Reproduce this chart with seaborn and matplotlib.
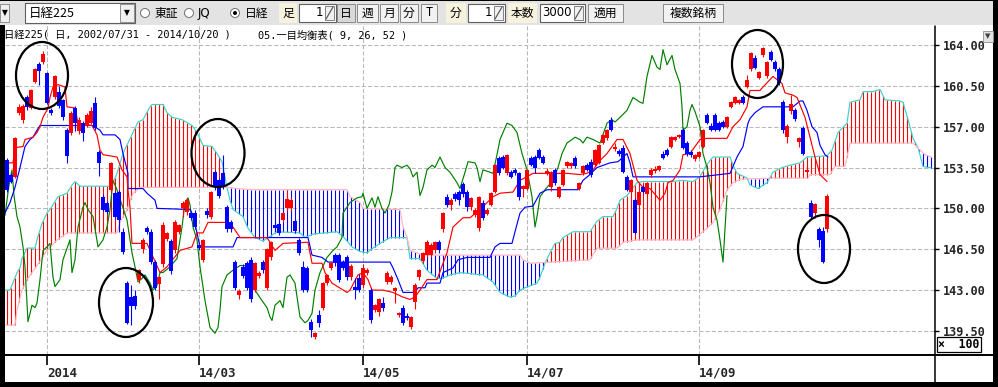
import numpy as np
import pandas as pd
import matplotlib
matplotlib.use("Agg")
import matplotlib.pyplot as plt
import seaborn as sns
from matplotlib.patches import Rectangle, Ellipse
from matplotlib.lines import Line2D

# ---------------- data (values x100 yen, day = trading-day number) ----------------
opens = [154.15, 152.9, 152.7, 158.2, 157.6, 159.5, 158.6, 160.8, 162.4, 162.5,
         161.6, 158.4, 159.5, 160.0, 159.3, 156.7, 156.5, 158.6, 156.6, 157.3,
         157.1, 157.3, 159.0, 154.8, 151.0, 150.5, 151.6, 151.3, 151.4, 148.0,
         143.6, 142.4, 142.5, 143.9, 146.5, 148.3, 148.0, 145.4, 143.5, 145.2,
         147.4, 147.2, 146.4, 148.0, 150.0, 149.7, 149.6, 149.6, 146.9, 145.6,
         149.8, 149.3, 153.1, 152.4, 153.0, 150.1, 148.8, 145.4, 142.6, 145.0,
         145.3, 145.6, 143.0, 144.2, 145.4, 143.2, 145.8, 148.6, 148.7, 149.0,
         150.0, 150.0, 148.9, 147.3, 145.0, 144.9, 140.3, 139.0, 140.9, 141.5,
         143.6, 144.9, 146.0, 146.0, 145.4, 145.8, 144.1, 143.3, 144.0, 143.4,
         144.5, 143.0, 141.3, 141.1, 141.9, 143.7, 143.7, 142.9, 140.9, 141.5,
         140.8, 139.8, 142.0, 144.1, 145.5, 146.0, 146.0, 146.4, 147.1, 148.2,
         151.0, 150.3, 151.2, 151.4, 152.1, 151.4, 150.1, 149.4, 148.3, 150.5,
         149.5, 150.3, 151.4, 154.3, 154.4, 153.0, 153.1, 153.3, 153.0, 151.7,
         151.7, 154.3, 154.4, 155.0, 154.4, 153.0, 151.8, 153.3, 151.0, 152.0,
         153.6, 153.6, 154.3, 151.7, 153.0, 153.7, 154.0, 153.7, 153.9, 155.6,
         156.0, 157.6, 155.1, 154.9, 155.2, 152.7, 151.4, 150.7, 150.3, 151.8,
         151.2, 152.9, 153.2, 153.3, 154.7, 155.0, 155.3, 155.9, 156.1, 156.7,
         155.6, 154.8, 154.2, 154.4, 155.3, 158.0, 157.1, 158.0, 157.3, 157.4,
         157.0, 158.7, 159.0, 159.0, 159.5, 160.4, 161.9, 162.9, 161.2, 163.1,
         161.3, 163.4, 162.5, 161.9, 159.1, 156.1, 158.3, 158.4, 155.7, 156.9,
         153.1, 150.5, 149.6, 148.2, 148.1, 148.2]
highs = [154.3, 153.0, 156.1, 158.9, 158.9, 159.7, 160.2, 162.0, 162.5, 163.5,
         161.7, 158.6, 161.4, 160.5, 159.4, 156.9, 158.3, 158.8, 157.8, 157.5,
         158.2, 158.7, 159.5, 155.0, 151.2, 150.6, 154.0, 151.5, 151.6, 148.3,
         143.8, 143.4, 143.0, 144.8, 147.5, 148.5, 148.2, 145.6, 144.2, 148.8,
         148.0, 147.4, 149.0, 148.7, 150.6, 150.9, 149.8, 149.9, 147.1, 147.4,
         150.0, 151.5, 153.3, 152.6, 154.6, 150.3, 149.0, 145.6, 143.1, 145.2,
         145.5, 145.8, 145.4, 144.6, 145.6, 146.6, 147.2, 148.8, 148.9, 149.7,
         151.6, 151.0, 149.1, 147.5, 145.5, 145.1, 140.5, 139.4, 141.3, 143.7,
         144.4, 145.4, 146.2, 146.2, 145.6, 146.0, 145.2, 144.0, 144.4, 145.2,
         144.9, 143.2, 141.8, 142.3, 142.4, 144.6, 144.3, 143.3, 141.1, 141.7,
         141.0, 140.8, 143.6, 144.8, 146.3, 147.3, 147.0, 147.2, 147.3, 149.7,
         151.2, 150.9, 151.4, 151.6, 152.3, 151.6, 151.0, 150.0, 151.1, 150.7,
         150.0, 151.4, 153.8, 154.5, 154.6, 154.7, 153.3, 153.5, 153.1, 152.0,
         153.4, 154.5, 154.6, 155.2, 154.6, 153.5, 153.2, 153.5, 151.9, 153.4,
         154.1, 154.0, 154.5, 152.3, 153.7, 153.9, 154.2, 155.1, 155.5, 156.4,
         156.8, 157.8, 155.6, 155.1, 155.4, 152.9, 152.5, 150.9, 151.5, 152.0,
         152.3, 153.5, 153.6, 153.7, 154.9, 155.2, 156.2, 156.2, 156.4, 156.9,
         155.8, 155.0, 154.7, 154.9, 156.8, 158.2, 157.3, 158.2, 157.5, 157.6,
         157.9, 159.2, 159.6, 159.4, 159.7, 161.4, 163.4, 163.1, 161.8, 163.8,
         162.6, 163.6, 162.7, 162.1, 159.3, 157.2, 159.7, 158.6, 156.1, 157.1,
         153.6, 150.7, 150.5, 148.4, 148.4, 151.2]
lows = [151.4, 152.2, 152.6, 158.0, 157.3, 158.4, 158.5, 160.7, 160.6, 162.4,
        158.9, 158.0, 159.4, 158.6, 157.6, 153.9, 156.3, 156.6, 156.4, 155.8,
        157.0, 157.2, 156.7, 152.8, 149.8, 149.5, 151.4, 149.1, 148.0, 146.1,
        140.1, 140.0, 141.4, 143.6, 146.2, 147.8, 145.2, 143.0, 142.2, 145.0,
        147.2, 144.4, 146.2, 147.8, 149.3, 149.4, 149.0, 148.2, 146.4, 145.4,
        149.2, 149.1, 151.6, 150.9, 151.7, 148.0, 148.0, 143.0, 142.2, 144.0,
        143.0, 142.0, 142.8, 144.0, 144.5, 143.0, 145.6, 148.1, 147.7, 148.8,
        149.8, 149.8, 147.9, 146.0, 142.8, 142.8, 139.0, 138.8, 139.8, 141.3,
        143.4, 144.7, 145.1, 143.7, 144.7, 143.9, 143.9, 142.2, 142.8, 143.2,
        144.3, 140.2, 141.1, 140.8, 141.2, 143.5, 143.5, 141.9, 140.7, 140.0,
        140.4, 139.7, 141.4, 143.9, 145.3, 145.8, 145.8, 146.2, 146.2, 148.0,
        150.1, 149.9, 150.6, 150.3, 151.0, 149.8, 149.9, 149.3, 148.1, 149.0,
        149.4, 150.2, 151.3, 152.9, 153.4, 152.9, 152.6, 152.9, 150.7, 151.0,
        151.6, 153.6, 153.0, 154.2, 153.8, 152.9, 151.5, 152.0, 150.9, 151.9,
        153.5, 153.5, 153.5, 151.6, 152.9, 153.2, 152.7, 153.6, 153.8, 155.5,
        155.9, 156.6, 154.9, 154.5, 153.0, 151.5, 151.3, 147.8, 150.2, 151.3,
        151.1, 152.7, 153.0, 153.2, 154.2, 154.5, 155.2, 155.8, 156.0, 155.1,
        154.5, 154.4, 154.1, 154.3, 155.2, 157.2, 156.6, 156.6, 156.6, 156.9,
        156.9, 158.6, 158.9, 158.9, 158.9, 160.3, 161.8, 161.9, 161.1, 163.0,
        161.2, 162.6, 161.8, 160.6, 156.5, 155.6, 158.1, 157.5, 155.3, 154.6,
        152.7, 149.2, 149.2, 146.7, 145.3, 148.0]
closes = [151.6, 152.3, 156.0, 158.7, 158.8, 158.7, 160.1, 161.9, 161.8, 163.2,
          159.0, 158.2, 161.3, 158.8, 157.8, 154.5, 158.2, 157.3, 157.6, 156.5,
          158.0, 158.3, 156.9, 153.9, 149.9, 149.7, 153.9, 149.3, 149.0, 146.3,
          140.2, 141.6, 141.6, 144.7, 147.3, 148.0, 145.4, 143.2, 144.1, 148.6,
          147.9, 144.6, 148.8, 148.6, 150.5, 150.7, 149.2, 148.4, 146.6, 147.3,
          149.4, 151.4, 151.8, 151.1, 151.8, 148.2, 148.2, 143.2, 142.9, 144.2,
          143.2, 142.2, 145.3, 144.5, 144.7, 146.5, 147.1, 148.3, 147.9, 149.6,
          150.8, 150.7, 148.1, 146.2, 143.0, 143.0, 139.6, 139.3, 140.2, 143.6,
          144.3, 145.3, 145.3, 143.9, 144.9, 144.1, 145.1, 143.0, 143.0, 144.9,
          144.7, 140.4, 141.7, 142.2, 141.5, 144.5, 144.1, 143.2, 141.0, 140.2,
          140.6, 140.7, 143.4, 144.7, 146.2, 147.1, 146.9, 147.1, 146.4, 149.6,
          150.3, 150.7, 150.8, 150.7, 151.2, 150.1, 150.9, 149.9, 151.0, 149.2,
          149.9, 151.3, 153.7, 153.0, 153.5, 154.6, 152.7, 153.0, 151.0, 151.9,
          153.3, 153.7, 153.5, 154.3, 153.9, 153.2, 153.1, 152.2, 151.8, 153.3,
          154.0, 153.9, 153.6, 152.2, 153.6, 153.3, 152.9, 155.0, 155.4, 156.3,
          156.7, 156.7, 155.3, 154.7, 153.1, 151.6, 152.4, 147.9, 151.4, 151.4,
          152.2, 153.3, 153.4, 153.6, 154.3, 154.6, 156.1, 156.1, 156.3, 155.2,
          154.7, 154.6, 154.6, 154.8, 156.7, 157.3, 156.7, 156.7, 156.7, 157.0,
          157.8, 159.1, 159.5, 159.3, 159.0, 161.0, 163.3, 162.0, 161.7, 163.7,
          162.5, 162.7, 161.9, 160.7, 156.7, 157.1, 158.9, 157.7, 156.0, 154.7,
          153.3, 149.3, 150.4, 147.3, 145.4, 151.1]

# conversion line (tenkan, 9) : vertices (day, value)
tenkan_day = [-0.5, 1.5, 2.0, 4.0, 4.5, 6.5, 7.5, 8.25, 9.0, 10.25, 10.75, 11.5, 12.75, 14.5, 14.75, 15.0,
              17.0, 17.75, 21.25, 22.5, 23.25, 24.0, 27.5, 28.75, 30.0, 30.25, 30.75, 31.25, 35.0, 38.25,
              40.0, 43.25, 46.25, 47.5, 49.0, 50.25, 55.0, 56.5, 58.25, 65.0, 67.0, 69.0, 75.25, 76.25,
              78.75, 79.5, 81.25, 85.0, 85.75, 87.75, 89.0, 90.25, 91.25, 94.0, 96.5, 99.0, 100.75, 102.0,
              103.25, 105.0, 107.5, 110.0, 111.5, 114.0, 115.75, 118.25, 121.5, 123.25, 126.5, 128.25,
              131.5, 140.0, 143.25, 145.0, 146.5, 148.25, 150.0, 152.5, 154.0, 155.75, 157.5, 159.0,
              160.75, 163.25, 164.5, 165.25, 166.5, 168.25, 169.0, 170.75, 173.25, 175.0, 180.0, 181.5,
              183.25, 185.0, 185.75, 188.25, 189.0, 191.5, 193.75, 194.5, 196.5, 197.5, 199.5, 200.75,
              202.0, 203.25, 205.0]
tenkan_val = [153.9, 153.9, 155.2, 155.3, 155.9, 156.1, 156.5, 157.0, 157.8, 158.6, 159.5, 160.4, 160.6, 160.4,
              159.5, 158.7, 158.6, 157.3, 157.1, 156.3, 155.0, 154.6, 154.4, 153.3, 152.7, 151.6, 150.1, 147.0,
              147.0, 144.5, 145.0, 146.4, 146.7, 147.9, 147.9, 148.8, 148.8, 148.4, 147.5, 147.5, 146.4, 147.0,
              147.1, 145.3, 145.3, 144.5, 143.6, 142.8, 143.0, 144.3, 144.5, 143.9, 143.0, 143.0, 142.8, 142.4,
              142.2, 142.4, 143.0, 143.9, 143.9, 146.2, 148.4, 149.2, 149.2, 149.9, 151.0, 151.3, 151.4, 152.4,
              153.0, 153.0, 152.9, 153.0, 153.3, 154.1, 154.7, 155.9, 155.9, 154.7, 152.4, 151.8, 151.7, 150.7,
              151.3, 152.2, 152.4, 153.3, 154.6, 154.7, 155.9, 156.0, 156.0, 157.0, 157.6, 158.7, 160.1, 160.1,
              160.4, 161.3, 160.7, 159.9, 159.7, 159.5, 157.8, 156.1, 154.4, 152.9, 152.3]

# base line (kijun, 26)
kijun_day = [-0.5, 0.75, 2.0, 3.25, 4.5, 5.75, 6.5, 7.5, 8.25, 21.5, 23.25, 24.0, 27.0, 28.25, 29.0, 30.25,
             30.25, 34.0, 35.0, 37.0, 37.5, 45.75, 46.5, 47.5, 48.25, 56.5, 57.5, 75.25, 76.25, 78.75, 80.25,
             95.75, 96.5, 97.75, 99.0, 102.0, 102.75, 104.5, 105.0, 108.25, 109.0, 111.5, 112.75, 115.0, 120.75,
             122.0, 123.25, 126.25, 127.0, 128.25, 129.5, 131.5, 133.25, 135.0, 142.75, 144.0, 145.75, 147.5,
             150.75, 152.75, 155.0, 155.75, 156.5, 173.25, 180.75, 182.5, 184.0, 185.25, 185.75, 187.0, 189.0,
             196.5, 198.25, 199.0, 200.0, 201.25, 202.5, 203.25, 204.5, 205.25]
kijun_val = [149.6, 150.5, 151.8, 153.5, 155.3, 155.9, 156.1, 156.7, 157.1, 157.1, 156.7, 156.3, 156.3, 155.9,
             154.7, 153.0, 151.7, 151.7, 151.3, 150.7, 150.0, 149.9, 149.4, 147.9, 146.7, 146.7, 147.5, 147.5,
             146.0, 145.8, 145.4, 145.4, 144.9, 143.9, 142.8, 142.8, 143.2, 143.2, 143.6, 143.6, 144.5, 144.9,
             145.6, 145.8, 145.8, 146.7, 147.0, 147.0, 148.0, 149.6, 150.1, 150.2, 151.3, 151.6, 151.6, 152.4,
             152.9, 153.5, 153.9, 154.0, 154.7, 153.9, 152.7, 152.7, 153.0, 154.4, 155.3, 157.3, 157.7, 158.2,
             158.7, 158.7, 159.2, 159.2, 158.4, 157.0, 156.5, 155.4, 154.6, 154.4]

# lagging span (chikou)
chikou_day = [-0.5, 0.5, 1.25, 1.75, 2.5, 3.25, 4.0, 4.5, 5.25, 6.25, 7.0, 7.5, 8.25, 9.0, 10.0, 10.75, 11.5,
              12.0, 13.25, 14.0, 15.75, 16.25, 17.0, 17.75, 19.0, 19.5, 20.25, 21.5, 22.75, 24.0, 25.0, 25.75,
              26.5, 27.5, 28.75, 30.0, 31.25, 32.0, 32.75, 33.75, 34.5, 35.75, 36.5, 37.5, 38.25, 39.0, 40.75,
              42.5, 43.25, 43.75, 44.5, 45.25, 45.75, 46.5, 47.5, 48.25, 49.5, 50.75, 52.0, 52.75, 53.25, 53.75,
              55.0, 56.5, 58.25, 59.5, 60.25, 62.0, 63.75, 65.0, 65.75, 66.25, 67.0, 68.25, 69.0, 70.0, 70.75,
              72.0, 73.25, 74.5, 75.25, 76.25, 77.0, 78.25, 80.0, 81.5, 82.5, 83.75, 84.0, 85.75, 87.5, 88.75,
              89.0, 90.0, 91.25, 92.0, 92.75, 93.75, 94.5, 95.5, 96.25, 97.0, 97.5, 98.75, 100.0, 100.75, 101.5,
              102.5, 103.25, 104.0, 105.0, 106.25, 107.0, 108.25, 109.5, 110.75, 112.5, 113.25, 114.5, 115.25,
              117.0, 117.5, 118.25, 119.0, 120.75, 121.5, 122.5, 123.25, 125.0, 126.25, 127.5, 128.75, 130.0,
              131.25, 132.0, 132.5, 133.25, 134.5, 136.5, 137.75, 138.75, 140.0, 141.25, 142.0, 143.25, 144.0,
              145.0, 146.5, 148.25, 150.0, 151.25, 152.0, 153.25, 155.0, 156.5, 158.25, 159.0, 160.0, 161.25,
              162.5, 163.25, 164.0, 165.0, 166.25, 167.0, 168.25, 168.75, 169.0, 170.0, 170.75, 171.25, 172.0,
              173.25, 174.0, 175.0, 175.75, 176.5, 177.5, 178.25, 179.0, 180.0]
chikou_val = [149.4, 152.0, 153.3, 151.1, 149.3, 148.4, 146.7, 145.0, 140.3, 141.7, 141.5, 141.9, 143.9, 146.4,
              146.7, 147.0, 144.1, 143.3, 143.9, 145.6, 147.3, 144.5, 145.6, 148.4, 150.1, 150.5, 149.9, 149.3,
              146.7, 147.3, 148.4, 149.9, 152.4, 151.6, 150.3, 149.0, 146.2, 145.0, 143.7, 144.0, 144.3, 143.6,
              143.0, 143.4, 144.5, 144.5, 145.0, 145.7, 147.3, 148.4, 150.5, 150.9, 150.3, 148.4, 147.3, 145.0,
              142.1, 139.8, 139.3, 139.8, 141.3, 143.3, 144.3, 144.7, 145.1, 145.1, 144.5, 143.0, 142.1, 141.5,
              140.7, 140.4, 141.7, 142.1, 141.5, 144.1, 144.3, 143.6, 140.7, 140.2, 140.4, 141.0, 143.0, 144.5,
              145.8, 146.4, 146.7, 147.5, 149.6, 150.5, 150.9, 151.0, 151.3, 150.0, 150.9, 150.1, 151.0, 150.0,
              149.6, 150.3, 151.4, 153.5, 153.7, 153.5, 153.7, 153.4, 152.7, 153.1, 151.1, 151.8, 153.3, 153.7,
              153.5, 154.4, 153.5, 153.1, 152.2, 151.7, 153.1, 154.0, 153.9, 153.5, 152.3, 153.3, 153.1, 153.0,
              154.6, 155.9, 157.3, 157.1, 156.5, 154.7, 153.3, 151.0, 148.4, 149.3, 151.0, 151.6, 152.4, 153.5,
              154.7, 155.6, 155.9, 156.1, 155.9, 155.6, 156.1, 155.9, 155.6, 157.3, 157.6, 157.4, 157.8, 158.4,
              159.5, 159.1, 159.0, 161.3, 163.1, 162.1, 161.9, 163.6, 162.3, 163.1, 161.9, 160.7, 158.7, 156.7,
              157.0, 158.4, 158.9, 158.3, 157.0, 154.7, 153.5, 152.2, 150.1, 149.0, 147.3, 145.4, 151.1]

# leading span A (senkou A)
spanA_day = [-0.5, 0.75, 2.5, 3.25, 3.75, 5.0, 7.0, 7.5, 8.75, 10.0, 10.75, 12.75, 15.0, 16.25, 17.0, 18.25,
             25.75, 26.5, 27.5, 29.0, 30.25, 31.5, 32.75, 34.0, 35.75, 36.25, 39.0, 40.0, 41.25, 42.5, 43.75,
             46.25, 47.5, 49.0, 51.25, 52.5, 53.75, 55.0, 55.75, 56.5, 59.0, 60.25, 62.0, 64.0, 65.75, 67.5,
             73.25, 74.5, 76.5, 82.5, 84.0, 86.25, 88.25, 90.0, 91.5, 93.25, 95.75, 98.25, 100.0, 100.75,
             103.25, 105.0, 107.5, 108.75, 110.75, 113.25, 119.0, 121.5, 123.25, 125.75, 127.0, 128.25, 129.5,
             132.5, 133.25, 134.5, 135.75, 137.0, 138.25, 139.0, 141.5, 145.75, 147.5, 149.0, 151.5, 152.5,
             153.25, 155.0, 157.5, 159.0, 166.5, 168.75, 171.5, 173.25, 174.5, 175.75, 176.5, 180.75, 181.5,
             182.5, 185.0, 185.75, 187.75, 190.0, 191.5, 193.75, 195.75, 198.25, 200.0, 205.0, 206.25, 207.75,
             210.0, 210.75, 213.25, 214.0, 216.5, 218.25, 219.5, 223.25, 224.0, 225.75, 226.5, 227.75, 229.0,
             230.25, 231.0]
spanA_val = [143.0, 143.0, 144.5, 144.9, 145.7, 146.6, 146.6, 147.3, 148.7, 149.6, 149.9, 151.0, 151.3, 152.0,
             152.3, 151.9, 151.9, 152.2, 153.0, 154.7, 155.6, 156.5, 157.4, 157.6, 158.7, 158.9, 158.9, 158.2,
             157.8, 157.7, 157.6, 157.1, 156.5, 155.4, 155.3, 154.7, 154.0, 151.8, 150.7, 149.9, 149.3, 148.3,
             147.5, 147.2, 147.6, 148.0, 147.9, 147.5, 147.8, 148.0, 147.6, 146.7, 146.3, 146.2, 146.6, 147.0,
             147.5, 147.5, 147.5, 145.7, 145.7, 144.7, 144.0, 144.0, 144.3, 144.5, 144.3, 143.7, 142.8, 142.4,
             142.5, 143.0, 143.2, 143.6, 144.1, 145.3, 146.2, 147.0, 147.1, 147.5, 148.0, 148.0, 148.9, 149.3,
             149.3, 150.0, 150.7, 151.1, 152.2, 152.3, 152.3, 152.4, 152.3, 152.7, 153.5, 154.1, 154.4, 154.4,
             153.7, 153.0, 152.6, 152.0, 151.7, 152.2, 153.1, 153.5, 153.7, 153.9, 154.4, 154.5, 155.0, 156.5,
             157.3, 159.1, 159.3, 160.0, 160.0, 160.2, 159.3, 159.2, 159.1, 157.0, 156.0, 155.2, 153.6, 153.5,
             153.5]

# leading span B (senkou B)
spanB_day = [-0.5, 2.0, 2.5, 3.75, 5.0, 7.5, 10.0, 12.5, 15.0, 27.5, 28.25, 30.0, 31.5, 33.25, 55.0, 60.75,
             85.0, 85.75, 88.25, 89.0, 98.25, 99.0, 100.0, 100.75, 102.5, 104.0, 128.25, 129.0, 130.75, 145.75,
             147.5, 152.5, 154.0, 157.5, 171.5, 173.25, 175.0, 176.5, 178.25, 180.0, 181.5, 183.25, 192.0,
             200.25, 200.75, 205.75, 207.0, 209.5, 210.75, 226.5, 228.25, 229.5, 231.0]
spanB_val = [140.0, 140.0, 141.3, 143.0, 143.9, 145.1, 146.4, 147.3, 147.9, 147.9, 148.8, 149.9, 151.3, 151.8,
             151.8, 151.6, 151.6, 151.0, 150.5, 150.0, 149.9, 148.4, 147.5, 146.4, 146.2, 146.0, 146.0, 145.6,
             145.3, 145.6, 146.6, 146.6, 147.1, 147.3, 147.3, 147.8, 148.3, 148.8, 149.9, 151.6, 152.2, 152.5,
             152.6, 152.6, 152.9, 152.9, 153.6, 153.6, 155.6, 155.6, 155.0, 154.6, 154.4]

tick_days = [10, 48, 89, 130, 173]
tick_labels = ["2014", "14/03", "14/05", "14/07", "14/09"]
price_ticks = [139.5, 143.0, 146.5, 150.0, 153.5, 157.0, 160.5, 164.0]

# ---------------- figure ----------------
sns.set_theme(style="white")
plt.rcParams["font.family"] = ["Noto Sans CJK JP", "DejaVu Sans"]

W, H = 998, 387
fig = plt.figure(figsize=(W / 100, H / 100), dpi=100, facecolor="black")


def fx(x):
    return x / W


def fy(y):
    return 1 - y / H


def prect(x0, y0, x1, y1, fc, ec="none", lw=0.0, z=-1):
    r = Rectangle((fx(x0), fy(y1)), (x1 - x0) / W, (y1 - y0) / H, transform=fig.transFigure,
                  facecolor=fc, edgecolor=ec, linewidth=lw, zorder=z)
    fig.patches.append(r)
    return r


def pline(xs, ys, color="black", lw=1.0, z=4):
    fig.lines.append(Line2D([fx(x) for x in xs], [fy(y) for y in ys], transform=fig.transFigure,
                            color=color, linewidth=lw, zorder=z))


def ptext(x, y, s, size=9, ha="left", color="black", weight="normal", family=None, z=6):
    kw = {}
    if family is not None:
        kw["family"] = family
    fig.text(fx(x), fy(y), s, fontsize=size, ha=ha, va="center", color=color,
             fontweight=weight, zorder=z, **kw)


# backgrounds
prect(0, 1, 993, 25, "#e3e3e3")          # toolbar
prect(5, 25, 993, 382, "white")           # chart panel

ax = fig.add_axes([fx(5), fy(355), 929 / W, 330 / H])
ax.set_facecolor("white")
ax.set_xlim(-0.5, 231.75)
ax.set_ylim(137.44, 165.71)

# cloud hatching (every day between span A and span B)
hd = np.arange(0, 232)
a = np.interp(hd, spanA_day, spanA_val)
b = np.interp(hd, spanB_day, spanB_val)
hcol = np.where(a >= b, "#ff0000", "#0000ff")
ax.vlines(hd, np.minimum(a, b), np.maximum(a, b), colors=hcol, linewidth=0.8, zorder=2)

lines = [
    (spanA_day, spanA_val, "#3cd2c8"),
    (spanB_day, spanB_val, "#ffb4c0"),
    (chikou_day, chikou_val, "#008000"),
    (kijun_day, kijun_val, "#0000ff"),
    (tenkan_day, tenkan_val, "#ff0000"),
]
for i, (dx, dv, c) in enumerate(lines):
    df = pd.DataFrame({"day": dx, "v": dv})
    sns.lineplot(data=df, x="day", y="v", ax=ax, color=c, linewidth=0.85, sort=False,
                 estimator=None, legend=False, zorder=3 + i * 0.1)

# candles
d = np.arange(len(closes))
o = np.array(opens)
c = np.array(closes)
hi = np.array(highs)
lo = np.array(lows)
up = c >= o
ccol = np.where(up, "#ff0000", "#0000ff")
ax.vlines(d, lo, hi, colors=ccol, linewidth=0.8, zorder=5)
bot = np.minimum(o, c)
hgt = np.maximum(np.abs(c - o), 0.09)
ax.bar(d, hgt, bottom=bot, width=0.78, color=ccol, linewidth=0, zorder=6)

# axes cosmetics
for s in ax.spines.values():
    s.set_visible(False)
ax.set_xlabel("")
ax.set_ylabel("")
ax.set_yticks(price_ticks)
ax.set_yticklabels([f"{v:.2f}" for v in price_ticks])
ax.set_xticks(tick_days)
ax.set_xticklabels(tick_labels)
ax.yaxis.tick_right()
ax.tick_params(axis="y", which="both", right=True, left=False, direction="out", length=3.5,
               width=1.0, color="black", pad=3, labelsize=8.6)
ax.tick_params(axis="x", which="both", bottom=True, direction="out", length=7.5, width=1.2,
               color="black", pad=1, labelsize=9.0)
for lbl in ax.get_yticklabels() + ax.get_xticklabels():
    lbl.set_fontfamily("DejaVu Sans Mono")
    lbl.set_fontweight("bold")
for lbl in ax.get_xticklabels():
    lbl.set_horizontalalignment("left")
ax.grid(True, color="#b8b8b8", linestyle=(0, (4, 2)), linewidth=0.75)
ax.set_axisbelow(True)

# frame lines
pline([5, 993], [355, 355], lw=1.4)
pline([934.5, 934.5], [26, 382], lw=1.1)

# annotation ellipses
for cx, cy, ew, eh in [(42, 75.5, 52, 67), (218, 153, 53, 68), (126, 302.5, 54, 69),
                       (757.5, 64, 51, 68), (824, 249, 52, 68)]:
    fig.patches.append(Ellipse((fx(cx), fy(cy)), ew / W, eh / H, transform=fig.transFigure,
                               facecolor="none", edgecolor="black", linewidth=1.6, zorder=8))

# title row
mono_cjk = ["DejaVu Sans Mono", "Noto Sans CJK JP"]
ptext(4, 35, "日経225( 日, 2002/07/31 - 2014/10/20 )", size=7.4, family=mono_cjk)
ptext(258, 35, "05.一目均衡表( 9, 26, 52 )", size=7.4, family=mono_cjk)

# "x 100" box on the price scale
prect(937, 337, 981, 352, "white", ec="black", lw=0.9, z=5)
ptext(959, 344.5, "×  100", size=8.3, ha="center", weight="bold", family=["DejaVu Sans Mono"])

# small drop button at top right of the price scale
prect(983, 31, 993, 42, "#e3e3e3", ec="#909090", lw=0.6, z=5)
ptext(988, 36, "▼", size=5, ha="center", color="#404040", family=["DejaVu Sans"])

# ---------------- toolbar widgets ----------------
prect(0, 4, 9, 22, "#f0f0f0", ec="#808080", lw=0.6, z=5)
ptext(4.5, 13, "▼", size=5.5, ha="center", family=["DejaVu Sans"])
prect(25, 3, 135, 23, "white", ec="#606060", lw=0.8, z=5)
ptext(29, 13, "日経225", size=9)
prect(120, 4, 134, 22, "#f0f0f0", ec="#808080", lw=0.6, z=5)
ptext(127, 13, "▼", size=5.5, ha="center", family=["DejaVu Sans"])


def radio(x, filled):
    fig.patches.append(Ellipse((fx(x), fy(13)), 9 / W, 9 / H, transform=fig.transFigure,
                               facecolor="white", edgecolor="#707070", linewidth=0.7, zorder=5))
    if filled:
        fig.patches.append(Ellipse((fx(x), fy(13)), 4 / W, 4 / H, transform=fig.transFigure,
                                   facecolor="black", edgecolor="none", zorder=6))


radio(145, False)
ptext(155, 13, "東証", size=8.5)
radio(189, False)
ptext(198, 13, "JQ", size=8.5, family=["DejaVu Sans"])
radio(235, True)
ptext(245, 13, "日経", size=8.5)


def label_box(x0, x1, s):
    prect(x0, 3, x1, 23, "#f7f2de", z=5)
    ptext((x0 + x1) / 2, 13, s, size=8.5, ha="center")


def spin(x0, x1, s):
    prect(x0, 4, x1, 22, "white", ec="#606060", lw=0.8, z=5)
    ptext(x1 - 13, 13, s, size=8.5, ha="right", family=["DejaVu Sans"])
    prect(x1 - 11, 6, x1 - 2, 20, "#f0f0f0", ec="#707070", lw=0.6, z=6)
    pline([x1 - 10, x1 - 3], [19, 7], color="#505050", lw=0.8, z=7)


def button(x0, x1, s, pressed=False):
    prect(x0, 4, x1, 22, "#d8d8d8" if pressed else "#f2f2f2", ec="#8a8a8a", lw=0.7, z=5)
    ptext((x0 + x1) / 2, 13, s, size=8.5, ha="center")


label_box(279, 297, "足")
spin(299, 336, "1")
button(337, 355, "日", pressed=True)
button(357, 378, "週")
button(380, 398, "月")
button(400, 418, "分")
button(421, 437, "T")
label_box(446, 466, "分")
spin(468, 505, "1")
label_box(508, 537, "本数")
spin(540, 585, "3000")
button(588, 623, "適用")
button(663, 723, "複数銘柄")

fig.savefig("out.png", dpi=100, facecolor=fig.get_facecolor())
